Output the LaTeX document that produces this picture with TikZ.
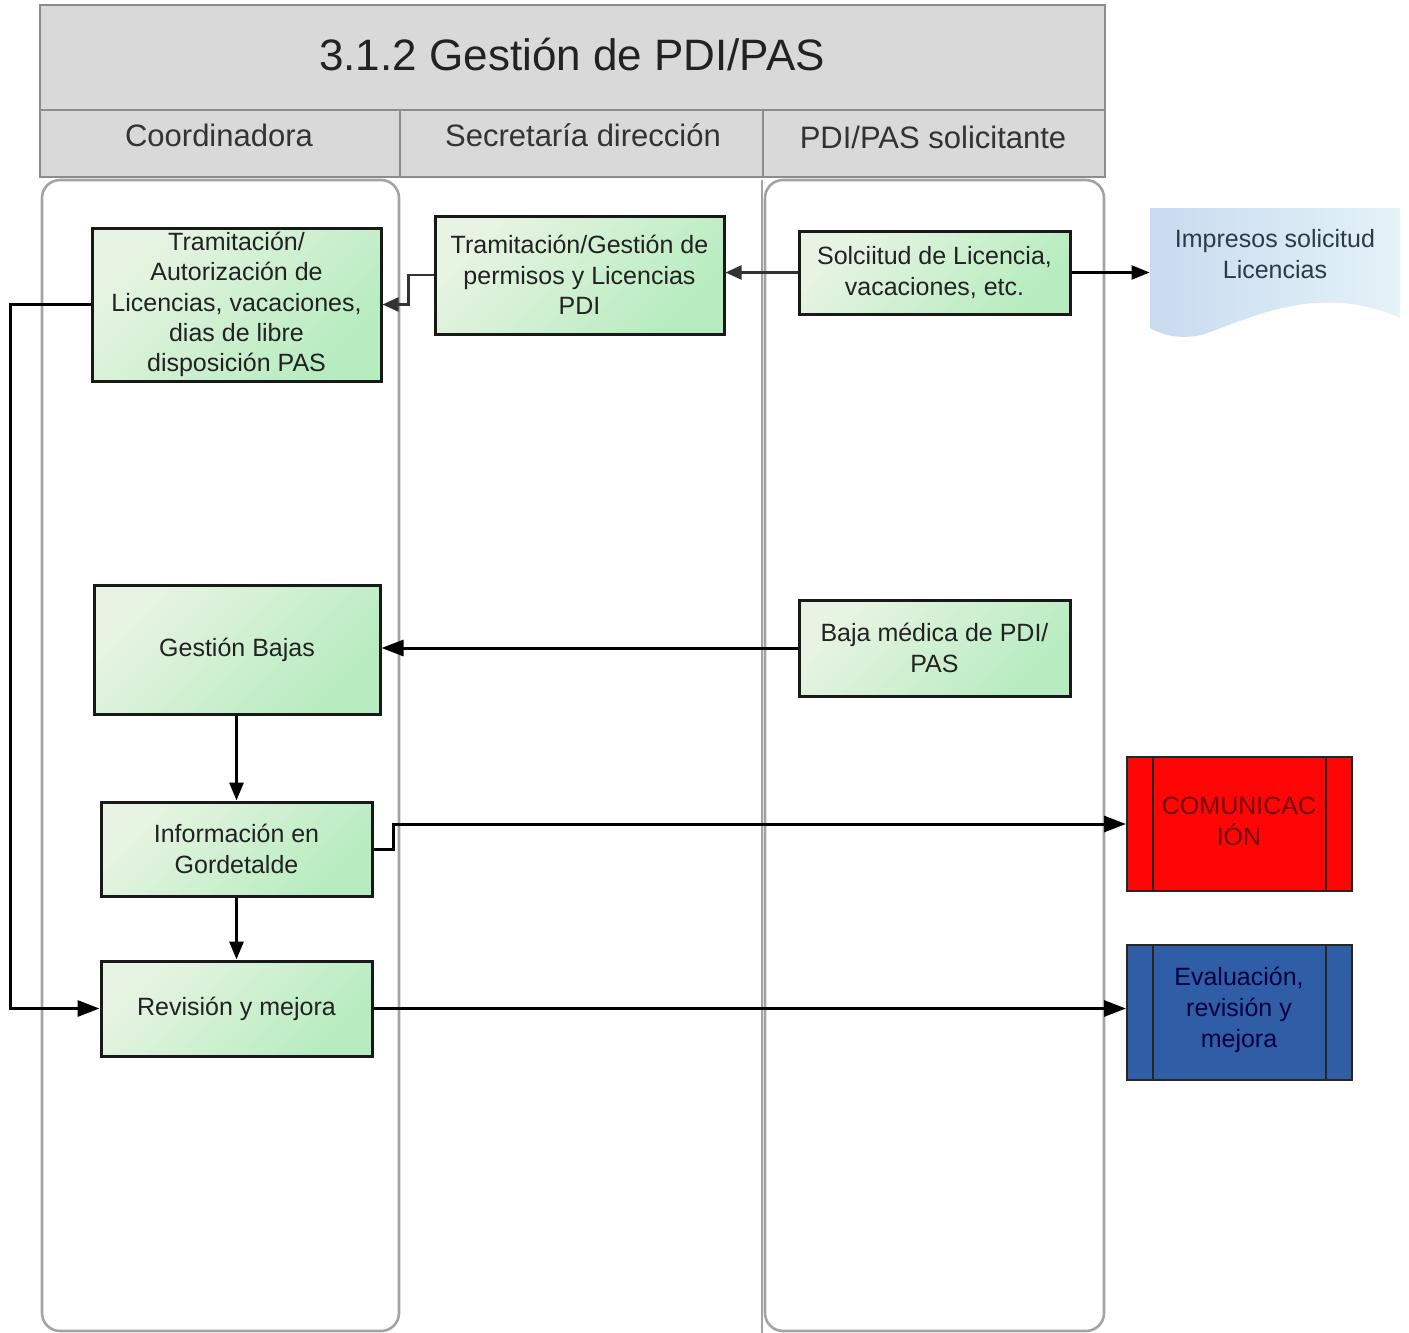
\documentclass[tikz,border=0pt]{standalone}
\usepackage{fontspec}
\setmainfont{Liberation Sans}
\usetikzlibrary{arrows.meta}

\definecolor{hdrfill}{HTML}{D9D9D9}
\definecolor{hdrline}{HTML}{8C8C8C}
\definecolor{laneline}{HTML}{A3A3A3}
\definecolor{greenA}{HTML}{E8F4E3}
\definecolor{greenB}{HTML}{B6ECBF}
\definecolor{docA}{HTML}{C8DAF0}
\definecolor{docB}{HTML}{E4F3F7}
\definecolor{doctext}{HTML}{2E3A48}
\definecolor{procred}{HTML}{FF0505}
\definecolor{procblue}{HTML}{2F5EA6}
\definecolor{txtdark}{HTML}{222222}

\tikzset{
  hdr/.style={draw=hdrline, line width=1.4pt, fill=hdrfill, inner sep=0pt},
  lane/.style={draw=laneline, line width=1.3pt, rounded corners=9pt},
  proc/.style={draw=black!90, line width=1.5pt, top color=greenA, bottom color=greenB,
    shading angle=45, align=center, inner sep=0pt, text=txtdark,
    font=\fontsize{12.5}{15.2}\selectfont},
  extproc/.style={draw=black!85, line width=1pt, align=center, inner sep=0pt,
    font=\fontsize{12.5}{15.4}\selectfont},
  conn/.style={draw=black, line width=1.5pt, -{Triangle[length=11pt,width=8pt]}},
  lightconn/.style={draw=black!80, line width=1.1pt, -{Triangle[length=8pt,width=7pt]}},
}

\begin{document}
\begin{tikzpicture}[x=0.5pt,y=-0.5pt]
\useasboundingbox (0,0) rectangle (1409,1333);

% title and lane headers
\node[hdr, minimum width=532.5pt, minimum height=52.5pt] (title) at (572.5,57.5) {};
\node[font=\fontsize{22}{26}\selectfont, text=txtdark] (titletext) at (572,55) {3.1.2 Gestión de PDI/PAS};
\node[hdr, minimum width=180pt, minimum height=33.5pt] (h1) at (220,143.5) {};
\node[hdr, minimum width=181.5pt, minimum height=33.5pt] (h2) at (581.5,143.5) {};
\node[hdr, minimum width=171pt, minimum height=33.5pt] (h3) at (934,143.5) {};
\node[font=\fontsize{15.5}{18}\selectfont, text=black!80] (h1t) at (219,135) {Coordinadora};
\node[font=\fontsize{15.5}{18}\selectfont, text=black!80] (h2t) at (583,135) {Secretaría dirección};
\node[font=\fontsize{15.5}{18}\selectfont, text=black!80] (h3t) at (933,137) {PDI/PAS solicitante};

% swimlane bodies
\draw[lane] (42,180) rectangle (399,1331);
\draw[lane] (765,180) rectangle (1104,1331);
\draw[draw=laneline, line width=1.3pt] (762,180) -- (762,1333);

% process steps
\node[proc, minimum width=144.5pt, minimum height=76.5pt] (tauto) at (236.5,304.5)
  {Tramitación/\\Autorización de\\Licencias, vacaciones,\\dias de libre\\disposición PAS};
\node[proc, minimum width=144.5pt, minimum height=59pt] (tpdi) at (579.5,275)
  {Tramitación/Gestión de\\permisos y Licencias\\PDI};
\node[proc, minimum width=135.5pt, minimum height=41.5pt] (sol) at (934.5,272.5)
  {Solciitud de Licencia,\\vacaciones, etc.};
\node[proc, minimum width=143pt, minimum height=64.5pt] (gb) at (237,649.5) {Gestión Bajas};
\node[proc, minimum width=135.5pt, minimum height=48pt] (baja) at (934.5,648)
  {Baja médica de PDI/\\PAS};
\node[proc, minimum width=135.5pt, minimum height=47pt] (info) at (236.5,849)
  {Información en\\Gordetalde};
\node[proc, minimum width=135.5pt, minimum height=47.5pt] (rev) at (236.5,1008.5)
  {Revisión y mejora};

% document shape
\path[left color=docA, right color=docB]
  (1150,208) -- (1400,208) -- (1400,318)
  .. controls (1320,282) and (1250,318) .. (1205,334)
  .. controls (1182,340) and (1165,336) .. (1150,328) -- cycle;
\node[align=center, minimum width=125pt, inner sep=0pt, text=doctext,
  font=\fontsize{12.5}{15.2}\selectfont] (imp) at (1275,254)
  {Impresos solicitud\\Licencias};

% external (predefined) processes
\node[extproc, fill=procred, minimum width=112.5pt, minimum height=67pt] (com) at (1239.5,824) {};
\draw[black!85, line width=1pt] ([xshift=13.5pt]com.north west) -- ([xshift=13.5pt]com.south west);
\draw[black!85, line width=1pt] ([xshift=-13.5pt]com.north east) -- ([xshift=-13.5pt]com.south east);
\node[align=center, text=red!45!black, font=\fontsize{12.5}{15.4}\selectfont] (comt) at (1239,821)
  {COMUNICAC\\IÓN};

\node[extproc, fill=procblue, minimum width=112.5pt, minimum height=67.5pt] (eval) at (1239.5,1012.5) {};
\draw[black!85, line width=1pt] ([xshift=13.5pt]eval.north west) -- ([xshift=13.5pt]eval.south west);
\draw[black!85, line width=1pt] ([xshift=-13.5pt]eval.north east) -- ([xshift=-13.5pt]eval.south east);
\node[align=center, text=blue!25!black, font=\fontsize{12.5}{15.4}\selectfont] (evalt) at (1239,1010)
  {Evaluación,\\revisión y\\mejora};

% connectors
\coordinate (loopL) at (10,304.5);
\draw[lightconn] (sol.west) -- (sol.west -| tpdi.east);
\draw[conn, -{Triangle[length=9pt,width=7pt]}, line width=1.2pt] (sol.east) -- (sol.east -| imp.west);
\draw[lightconn] (tpdi.west) -- ++(-25,0) |- (tauto.east);
\draw[conn] (tauto.west) -- (loopL) |- (rev.west);
\draw[conn] (baja.west) -- (baja.west -| gb.east);
\draw[conn, -{Triangle[length=9pt,width=7pt]}] (info.north |- gb.south) -- (info.north);
\draw[conn, -{Triangle[length=9pt,width=7pt]}] (info.south) -- (rev.north);
\draw[conn] (info.east) -- ++(20,0) |- (com.west);
\draw[conn] (rev.east) -- (rev.east -| eval.west);
\end{tikzpicture}
\end{document}
